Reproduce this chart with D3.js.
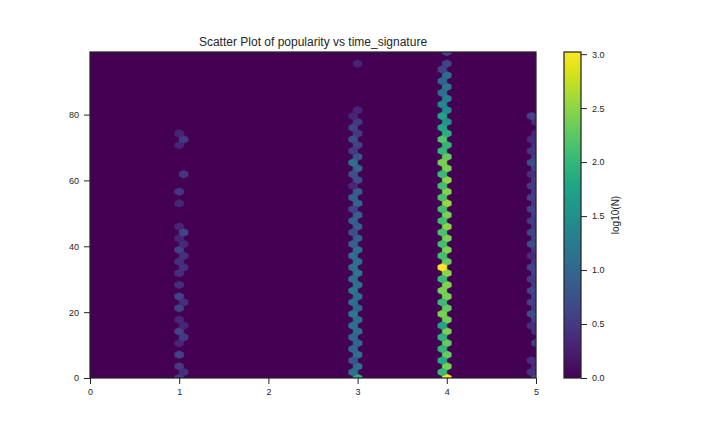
<!DOCTYPE html>
<html><head><meta charset="utf-8">
<style>html,body{margin:0;background:#fff}svg{display:block}text{font-family:"Liberation Sans",Arial,sans-serif;fill:#262626}</style>
<script src="https://cdn.jsdelivr.net/npm/d3@7"></script></head><body>
<svg id="c" width="720" height="432"></svg>
<script>
const chartTitle="Scatter Plot of popularity vs time_signature";
const colorbarLabel="log10(N)";
const xTicks=[0,1,2,3,4,5];
const yTicks=[0,20,40,60,80];
const cbTicks=[0,0.5,1,1.5,2,2.5,3];
const xDomain=[0,5], yDomain=[0,99], colorDomain=[0,3.02];
const gridNx=50, gridNy=28;
// Each entry: [x value, log10(N) per row going up]
const latticeA=[ // rows at iy*sy
 [1.0,[.5,.5,.6,.3,.6,.3,.6,.6,.4,.4,.4,.6,.3,.3,0,.3,.45,0,0,0,.3,.3,0,0,0,0,0,0,0]],
 [3.0,[1.9,1.1,1.1,1.0,1.1,1.1,1.0,1.1,1.1,1.2,1.1,1.1,.9,.9,.9,1.0,.9,.7,1.0,.8,.6,.5,.5,.3,0,0,0,.3,0]],
 [4.0,[3.0,2.4,2.3,2.3,2.4,2.35,2.3,2.4,2.45,2.5,2.3,2.45,2.4,2.5,2.4,2.55,2.45,2.5,2.4,2.3,2.0,1.9,1.55,1.45,1.3,1.2,1.05,.6,.6]],
 [5.0,[.8,.4,0,.6,.4,.6,.5,.6,.5,.6,.5,.5,.6,.5,.6,.5,.5,.5,.6,.5,.4,.3,.4,0,0,0,0,0,0]]
];
const latticeB=[ // rows at (iy+.5)*sy
 [1.05,[.4,0,0,.5,.3,0,.4,0,0,.4,.4,.35,.6,0,0,0,0,.45,0,0,.5,0,0,0,0,0,0,0]],
 [2.95,[1.1,.8,1.0,1.0,1.1,1.2,1.1,1.2,1.1,1.1,1.05,.9,.7,.9,.6,.9,.35,.7,1.1,.5,.7,.6,.3,0,0,0,0,0]],
 [3.95,[2.05,1.85,2.0,1.95,1.75,2.4,2.05,2.4,2.05,3.0,2.1,2.1,2.15,2.1,2.1,2.15,2.1,2.05,2.4,2.0,2.2,1.8,1.75,1.4,1.1,1.0,.6,0]],
 [4.95,[.45,.4,0,0,.4,.7,.55,.6,.5,.6,.35,.7,.6,.5,.6,.55,.5,.4,.7,.45,.35,0,.6,0,0,0,0,0]]
];
const m={l:90,r:536,t:52,b:378};
const svg=d3.select("#c");
const x=d3.scaleLinear().domain(xDomain).range([m.l,m.r]);
const y=d3.scaleLinear().domain(yDomain).range([m.b,m.t]);
const color=d3.scaleSequential(d3.interpolateViridis).domain(colorDomain);
svg.append("defs").append("clipPath").attr("id","pc").append("rect").attr("x",m.l).attr("y",m.t).attr("width",m.r-m.l).attr("height",m.b-m.t);
const sx=(xDomain[1]-xDomain[0])/gridNx, sy=(yDomain[1]-yDomain[0])/gridNy;
const cells=[];
latticeA.forEach(([xv,vals])=>vals.forEach((v,i)=>{if(v>0)cells.push({cx:xv,cy:i*sy,v})}));
latticeB.forEach(([xv,vals])=>vals.forEach((v,i)=>{if(v>0)cells.push({cx:xv,cy:(i+.5)*sy,v})}));
const hexPath=d=>{
  const pts=[[.5,-.5],[.5,.5],[0,1],[-.5,.5],[-.5,-.5],[0,-1]].map(([a,b])=>[x(d.cx+a*sx),y(d.cy+b*sy/3)]);
  return "M"+pts.join("L")+"Z";
};
const g=svg.append("g").attr("clip-path","url(#pc)");
g.append("rect").attr("x",m.l).attr("y",m.t).attr("width",m.r-m.l).attr("height",m.b-m.t).attr("fill",color(0));
g.selectAll("path.h").data(cells).join("path").attr("class","h").attr("d",hexPath).attr("fill",d=>color(d.v)).attr("stroke",d=>color(d.v)).attr("stroke-width",0.6);
function styleAxis(a){a.selectAll("text").style("font-size","9px");a.selectAll("line").attr("stroke","#262626").attr("stroke-width",1);a.select(".domain").remove();}
svg.append("g").attr("transform",`translate(0,${m.b})`).call(d3.axisBottom(x).tickValues(xTicks).tickFormat(d3.format("d")).tickSize(6).tickPadding(5)).call(styleAxis);
svg.append("g").attr("transform",`translate(${m.l},0)`).call(d3.axisLeft(y).tickValues(yTicks).tickFormat(d3.format("d")).tickSize(6).tickPadding(5)).call(styleAxis);
svg.append("rect").attr("x",m.l).attr("y",m.t).attr("width",m.r-m.l).attr("height",m.b-m.t).attr("fill","none").attr("stroke","#262626").attr("stroke-width",1.25);
svg.append("text").attr("x",(m.l+m.r)/2).attr("y",46).attr("text-anchor","middle").style("font-size","12px").text(chartTitle);
// colorbar
const cb={l:564,r:581};
const cy=d3.scaleLinear().domain(colorDomain).range([m.b,m.t]);
const grad=svg.select("defs").append("linearGradient").attr("id","vg").attr("x1",0).attr("x2",0).attr("y1",1).attr("y2",0);
d3.range(0,1.0001,0.05).forEach(t=>grad.append("stop").attr("offset",t).attr("stop-color",d3.interpolateViridis(t)));
svg.append("rect").attr("x",cb.l).attr("y",m.t).attr("width",cb.r-cb.l).attr("height",m.b-m.t).attr("fill","url(#vg)").attr("stroke","#262626").attr("stroke-width",1.25);
svg.append("g").attr("transform",`translate(${cb.r},0)`).call(d3.axisRight(cy).tickValues(cbTicks).tickFormat(d3.format(".1f")).tickSize(6).tickPadding(5)).call(styleAxis);
svg.append("text").attr("transform",`translate(619,215) rotate(-90)`).attr("text-anchor","middle").style("font-size","10px").text(colorbarLabel);
</script></body></html>
